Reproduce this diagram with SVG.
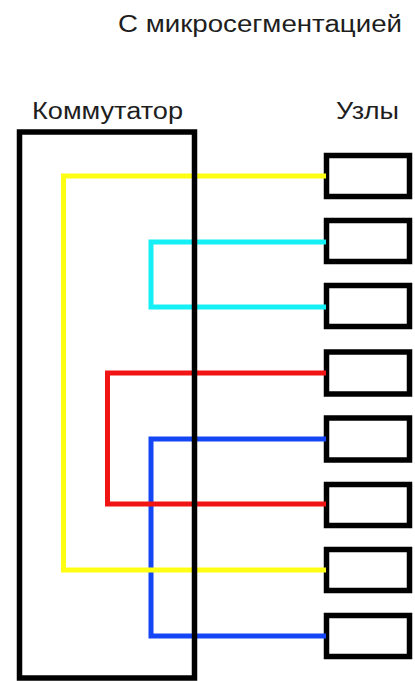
<svg xmlns="http://www.w3.org/2000/svg" width="415" height="681" viewBox="0 0 415 681">
<style>
.t{font-family:"Liberation Sans",Arial,sans-serif;fill:#1e1e1e}
.w{fill:none;stroke-width:5;stroke-linejoin:miter;stroke-linecap:butt}
.box{fill:#fff;stroke:#000;stroke-width:5.5}
.sw{fill:none;stroke:#000;stroke-width:5.5}
</style>
<rect width="415" height="681" fill="#fff"/>
<text class="t" x="118" y="32" font-size="23.5" textLength="284" lengthAdjust="spacingAndGlyphs">С микросегментацией</text>
<text class="t" x="32" y="119" font-size="23" textLength="151" lengthAdjust="spacingAndGlyphs">Коммутатор</text>
<text class="t" x="336" y="119" font-size="23" textLength="63" lengthAdjust="spacingAndGlyphs">Узлы</text>
<g id="nodes">
<g id="node1"><rect class="box" x="326.5" y="155.5" width="83" height="41"/></g>
<g id="node2"><rect class="box" x="326.5" y="220.5" width="83" height="41"/></g>
<g id="node3"><rect class="box" x="326.5" y="285.5" width="83" height="41"/></g>
<g id="node4"><rect class="box" x="326.5" y="352" width="83" height="42"/></g>
<g id="node5"><rect class="box" x="326.5" y="418" width="83" height="42"/></g>
<g id="node6"><rect class="box" x="326.5" y="484.5" width="83" height="41"/></g>
<g id="node7"><rect class="box" x="326.5" y="549.5" width="83" height="41"/></g>
<g id="node8"><rect class="box" x="326.5" y="615.5" width="83" height="41"/></g>
</g>
<g id="connectors">
<path class="w" stroke="#1446f5" d="M326,439 H151 V636 H326"/>
<path class="w" stroke="#f01414" d="M326,373 H107.5 V504 H326"/>
<path class="w" stroke="#ffff14" d="M326,176 H63.5 V570 H326"/>
<path class="w" stroke="#14f0f5" d="M326,242 H151 V307 H326"/>
</g>
<g id="switch"><rect class="sw" x="19.5" y="132" width="175" height="546"/></g>
</svg>
